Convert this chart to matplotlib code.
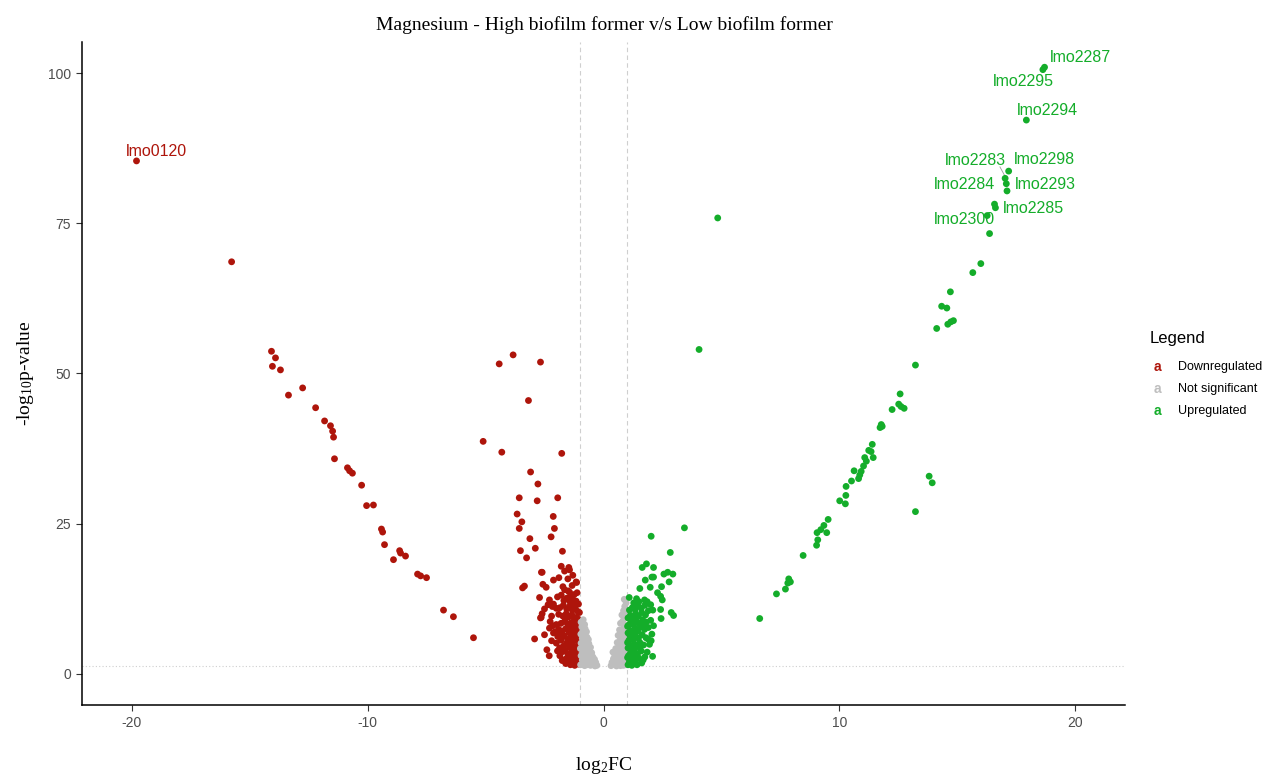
import matplotlib
matplotlib.use("Agg")
import matplotlib.pyplot as plt

plt.rcParams['mathtext.fontset'] = 'custom'
plt.rcParams['mathtext.rm'] = 'Liberation Serif'
plt.rcParams['mathtext.it'] = 'Liberation Serif:italic'
plt.rcParams['axes.unicode_minus'] = False

# Legend categories and colours
categories = ['Downregulated', 'Not significant', 'Upregulated']
colors = ['#AE150B', '#BEBEBE', '#14AD2A']

# Downregulated genes (log2FC, -log10 p)
down_x = [-19.79, -15.76, -14.07, -13.9, -14.03, -13.69, -13.35, -12.75, -12.2, -11.82,
          -11.57, -11.48, -11.44, -11.4, -10.85, -10.76, -10.64, -10.25, -10.04, -9.75,
          -9.41, -9.36, -9.28, -8.9, -8.64, -8.6, -8.39, -7.88, -7.75, -7.5,
          -6.78, -6.36, -5.51,
          -3.83, -4.42, -2.67, -3.18, -5.1, -4.31, -1.77, -3.09, -2.78, -3.57,
          -2.81, -1.94, -3.66, -3.46, -2.13, -3.57, -2.08, -2.22, -3.12, -3.52,
          -2.89, -1.74, -3.26, -3.43, -3.35, -2.92,
          -1.79, -1.47, -1.65, -2.6, -2.12, -1.89, -1.51, -2.57, -2.43, -1.33,
          -1.16, -1.72, -1.65, -1.44, -2.71, -1.79, -2.29, -2.12, -2.17, -2.0,
          -2.5, -2.64, -2.26, -2.15, -2.29, -2.12, -1.94, -2.0, -1.86, -1.72,
          -1.65, -1.44, -2.63, -1.14, -2.67, -1.68,
          -1.05, -1.12, -1.2, -1.3, -1.42, -1.55, -1.08, -1.18, -1.27, -1.36,
          -1.5, -1.62, -1.04, -1.14, -1.24, -1.33, -1.44, -1.58, -1.7, -1.1,
          -1.2, -1.3, -1.4, -1.52, -1.66, -1.8, -1.06, -1.16, -1.26, -1.36,
          -1.47, -1.6, -1.75, -1.9, -1.08, -1.18, -1.28, -1.38, -1.5, -1.64,
          -1.8, -2.0, -1.04, -1.14, -1.24, -1.34, -1.46, -1.58, -1.72, -1.9,
          -1.1, -1.2, -1.32, -1.44, -1.56, -1.7, -1.85, -1.06, -1.16, -1.3,
          -1.42, -1.55, -1.68, -1.24, -1.38, -1.12, -1.5, -1.02, -1.02, -1.02,
          -1.02, -1.22, -1.4, -1.6, -1.75, -1.85, -1.95, -1.85, -2.05, -2.2,
          -1.95, -1.3, -1.22, -1.35, -1.12, -1.48, -1.62,
          -2.4, -2.3, -2.5, -2.2, -2.6, -2.35]
down_y = [85.4, 68.6, 53.7, 52.6, 51.2, 50.6, 46.4, 47.6, 44.3, 42.1,
          41.3, 40.4, 39.4, 35.8, 34.3, 33.8, 33.4, 31.4, 28.0, 28.1,
          24.1, 23.6, 21.5, 19.0, 20.5, 20.1, 19.6, 16.6, 16.3, 16.0,
          10.6, 9.5, 6.0,
          53.1, 51.6, 51.9, 45.5, 38.7, 36.9, 36.7, 33.6, 31.6, 29.3,
          28.8, 29.3, 26.6, 25.3, 26.2, 24.2, 24.2, 22.8, 22.5, 20.5,
          20.9, 20.4, 19.3, 14.3, 14.6, 5.8,
          17.9, 17.7, 17.1, 16.9, 15.6, 16.0, 15.8, 14.9, 14.4, 14.7,
          15.3, 14.5, 14.0, 13.6, 12.7, 13.1, 12.3, 11.6, 11.2, 10.9,
          10.8, 9.4, 8.7, 8.0, 7.6, 6.8, 6.2, 5.1, 4.3, 3.7,
          2.3, 17.3, 16.9, 15.2, 9.3, 2.3,
          1.6, 2.0, 1.8, 2.4, 1.9, 2.6, 2.9, 3.3, 3.0, 3.6,
          3.2, 3.9, 4.1, 4.5, 4.0, 4.8, 4.4, 5.0, 4.6, 5.4,
          5.9, 5.5, 6.1, 5.7, 6.3, 5.6, 6.6, 7.0, 6.8, 7.3,
          6.9, 7.5, 7.1, 7.4, 7.9, 8.3, 7.8, 8.5, 8.1, 8.7,
          8.4, 8.2, 9.0, 9.4, 9.2, 9.8, 9.5, 10.0, 9.6, 9.9,
          10.4, 10.9, 10.6, 11.2, 10.8, 11.4, 11.0, 11.6, 12.1, 12.4,
          12.0, 12.6, 12.2, 13.2, 13.0, 13.5, 13.8, 2.5, 5.0, 7.5,
          10.2, 1.4, 1.5, 1.7, 2.2, 3.0, 3.8, 6.6, 7.0, 9.6,
          12.8, 16.4, 11.5, 2.8, 6.2, 4.9, 9.1,
          4.0, 3.0, 6.5, 5.5, 10.0, 11.5]

# Not significant genes
ns_x = [-0.86, -0.95, -0.8, -0.92, -0.78, -0.88, -0.72, -0.96, -0.82, -0.7,
        -0.9, -0.64, -0.78, -0.95, -0.62, -0.7, -0.86, -0.55, -0.98, -0.75,
        -0.62, -0.88, -0.5, -0.7, -0.95, -0.82, -0.58, -0.45, -0.68, -0.38,
        -0.9, -0.76, -0.52, -0.62, -0.33, -0.42, -0.86, -0.97, -0.7, -0.55,
        -0.28, -0.8, -0.36, -0.48, -0.6, -0.4,
        0.96, 0.9, 0.85, 0.95, 0.78, 0.92, 0.82, 0.72, 0.95, 0.86,
        0.68, 0.78, 0.96, 0.62, 0.86, 0.72, 0.95, 0.58, 0.8, 0.66,
        0.9, 0.52, 0.74, 0.6, 0.95, 0.84, 0.48, 0.68, 0.42, 0.56,
        0.9, 0.78, 0.36, 0.64, 0.48, 0.98, 0.85, 0.32, 0.72, 0.55,
        0.4, 0.62, 0.88]
ns_y = [9.0, 8.6, 8.2, 7.8, 7.5, 7.1, 7.0, 6.6, 6.4, 6.1,
        5.9, 5.7, 5.4, 5.1, 5.0, 4.7, 4.8, 4.4, 4.2, 4.0,
        3.8, 3.6, 3.5, 3.3, 3.0, 2.9, 2.9, 2.8, 2.6, 2.4,
        2.3, 2.1, 2.0, 1.9, 1.9, 1.6, 1.7, 1.5, 1.5, 1.4,
        1.4, 1.35, 1.3, 2.4, 3.2, 1.9,
        11.8, 11.2, 10.5, 10.2, 9.8, 9.3, 8.8, 8.4, 8.0, 7.6,
        7.3, 7.0, 6.6, 6.4, 6.1, 5.8, 5.4, 5.2, 5.0, 4.6,
        4.3, 4.2, 3.9, 3.5, 3.4, 3.0, 3.1, 2.8, 2.5, 2.3,
        2.2, 2.0, 1.9, 1.7, 1.6, 1.5, 1.4, 1.35, 1.35, 1.3,
        3.6, 2.1, 12.4]

# Upregulated genes
up_x = [18.69, 18.62, 17.92, 17.17, 17.02, 17.07, 17.1, 16.57, 16.61, 16.26,
        16.36, 15.99, 15.65, 14.7, 14.33, 14.55, 14.83, 14.72, 14.59, 14.12,
        13.22, 12.57, 12.51, 12.61, 12.74, 12.23,
        11.77, 11.72, 11.81, 11.39, 11.24, 11.34, 11.43, 11.07, 11.14, 11.02,
        10.92, 10.86, 10.81, 10.62, 10.51, 10.28, 10.27, 10.01, 10.25, 9.52,
        9.34, 9.21, 9.05, 9.46, 9.08, 9.03, 8.46, 7.85, 7.92, 7.81,
        7.71, 7.33, 6.62, 13.22, 13.8, 13.93,
        4.84, 4.05, 3.43, 2.02, 2.83, 1.64, 1.82, 2.12, 2.56, 2.72,
        2.94, 1.77, 2.05, 2.12, 2.78, 1.54, 1.98, 2.46, 2.29, 2.42,
        2.49, 1.09, 1.74, 1.85, 2.09, 2.42, 2.87, 2.97, 2.44, 2.02,
        1.68, 2.08,
        1.04, 1.1, 1.18, 1.26, 1.36, 1.5, 1.06, 1.14, 1.22, 1.32,
        1.44, 1.6, 1.04, 1.12, 1.2, 1.3, 1.4, 1.54, 1.7, 1.08,
        1.16, 1.26, 1.36, 1.48, 1.64, 1.8, 1.04, 1.14, 1.24, 1.34,
        1.46, 1.58, 1.74, 1.9, 1.06, 1.16, 1.26, 1.38, 1.5, 1.66,
        1.82, 2.0, 1.04, 1.14, 1.24, 1.36, 1.48, 1.62, 1.78, 1.1,
        1.22, 1.34, 1.46, 1.6, 1.75, 1.28, 1.5, 1.02, 1.02, 1.02,
        1.2, 1.42, 1.62, 1.75, 1.85, 1.95, 1.88, 2.05, 2.12, 1.3,
        1.12, 1.52, 1.68, 1.4, 1.9, 2.0]
up_y = [101.0, 100.6, 92.2, 83.7, 82.5, 81.6, 80.4, 78.2, 77.6, 76.3,
        73.3, 68.3, 66.8, 63.6, 61.2, 60.9, 58.8, 58.6, 58.2, 57.5,
        51.4, 46.6, 44.9, 44.5, 44.2, 44.0,
        41.5, 41.0, 41.2, 38.2, 37.2, 37.0, 36.0, 36.0, 35.4, 34.6,
        33.7, 33.1, 32.5, 33.8, 32.1, 31.2, 29.7, 28.8, 28.3, 25.7,
        24.7, 24.0, 23.5, 23.5, 22.3, 21.4, 19.7, 15.8, 15.3, 15.1,
        14.1, 13.3, 9.2, 27.0, 32.9, 31.8,
        75.9, 54.0, 24.3, 22.9, 20.2, 17.7, 18.3, 17.7, 16.6, 16.9,
        16.6, 15.6, 16.1, 16.1, 15.3, 14.2, 14.4, 14.5, 13.5, 12.9,
        12.3, 12.7, 12.3, 12.0, 10.6, 10.7, 10.2, 9.7, 9.2, 5.5,
        2.3, 2.9,
        1.5, 2.0, 1.7, 2.4, 1.9, 2.6, 3.0, 3.4, 3.1, 3.7,
        3.3, 3.8, 4.3, 4.7, 4.2, 5.0, 4.6, 5.2, 4.8, 5.6,
        6.1, 5.7, 6.3, 5.9, 6.5, 6.0, 6.8, 7.2, 7.0, 7.6,
        7.1, 7.8, 7.4, 7.7, 8.1, 8.6, 8.2, 8.8, 8.4, 9.0,
        8.6, 8.9, 9.3, 9.7, 9.4, 10.0, 9.6, 10.2, 9.8, 10.6,
        11.0, 10.7, 11.3, 10.9, 11.4, 11.8, 12.0, 2.7, 5.2, 7.9,
        1.4, 1.5, 1.8, 2.8, 3.6, 4.9, 5.8, 6.6, 8.0, 3.0,
        6.4, 4.4, 8.2, 12.5, 10.5, 11.5]

# Labelled genes
gene_names = ['lmo0120', 'lmo2287', 'lmo2295', 'lmo2294', 'lmo2283', 'lmo2298',
              'lmo2284', 'lmo2293', 'lmo2285', 'lmo2300']
gene_x = [-19.79, 18.69, 18.62, 17.92, 17.02, 17.17, 17.07, 17.1, 16.57, 16.26]
gene_y = [85.4, 101.0, 100.6, 92.2, 82.5, 83.7, 81.6, 80.4, 78.2, 76.3]
gene_cat = [0, 2, 2, 2, 2, 2, 2, 2, 2, 2]

# where the repelled labels sit (data units)
label_pos = [(-18.94, 86.9), (20.21, 102.7), (17.8, 98.7), (18.81, 93.8),
             (15.76, 85.5), (18.69, 85.7), (15.3, 81.5), (18.73, 81.5),
             (18.22, 77.5), (15.3, 75.7)]

W, H = 1267, 776
fig = plt.figure(figsize=(W / 100, H / 100), dpi=100)
ax = fig.add_axes([82 / W, 1 - 705 / H, (1125 - 82) / W, (705 - 42) / H])

series = [(down_x, down_y), (ns_x, ns_y), (up_x, up_y)]
order = [1, 0, 2]
for i in order:
    xs, ys = series[i]
    ax.scatter(xs, ys, s=24, c=colors[i], edgecolors='none', zorder=3 + i)

# threshold lines
for v in (-1, 1):
    ax.axvline(v, color='#cfcfcf', lw=0.8, ls=(0, (4, 3)), zorder=1)
ax.axhline(1.3, color='#cfcfcf', lw=0.8, ls=(0, (1, 2)), zorder=1)

# gene labels
for name, gx, gy, c, (lx, ly) in zip(gene_names, gene_x, gene_y, gene_cat, label_pos):
    ax.text(lx, ly, name, color=colors[c], fontsize=11.5, family='Liberation Sans',
            ha='center', va='center', zorder=6)
ax.plot([16.8, 17.05], [84.4, 82.6], color='#9a9a9a', lw=0.6, zorder=2)

ax.set_xlim(-22.1, 22.1)
ax.set_ylim(-5.2, 105.2)
ax.set_xticks([-20, -10, 0, 10, 20])
ax.set_yticks([0, 25, 50, 75, 100])
for lab in ax.get_xticklabels() + ax.get_yticklabels():
    lab.set_family('Liberation Sans')
ax.tick_params(length=4, width=0.8, color='#333333', labelcolor='#4d4d4d',
               labelsize=10, pad=4)
for side in ('top', 'right'):
    ax.spines[side].set_visible(False)
for side in ('left', 'bottom'):
    ax.spines[side].set_linewidth(1.1)

fig.text(604 / W, 1 - 25 / H, 'Magnesium - High biofilm former v/s Low biofilm former',
         ha='center', va='center', fontsize=14, family='Liberation Serif')
fig.text(604 / W, 1 - 765 / H, r'log$_{\mathrm{2}}$FC', ha='center', va='center',
         fontsize=14, family='Liberation Serif')
fig.text(25 / W, 1 - 373 / H, r'-log$_{\mathrm{10}}$p-value', ha='center', va='center',
         rotation=90, fontsize=14, family='Liberation Serif')

# legend
fig.text(1150 / W, 1 - 338 / H, 'Legend', ha='left', va='center', fontsize=12,
         family='Liberation Sans')
for k, (cat, col) in enumerate(zip(categories, colors)):
    yy = 1 - (367 + 22 * k) / H
    fig.text(1157 / W, yy, 'a', color=col, fontsize=10, fontweight='bold',
             ha='center', va='center', family='Liberation Sans')
    fig.text(1178 / W, yy, cat, ha='left', va='center', fontsize=9,
             family='Liberation Sans')

fig.savefig('out.png', dpi=100)
